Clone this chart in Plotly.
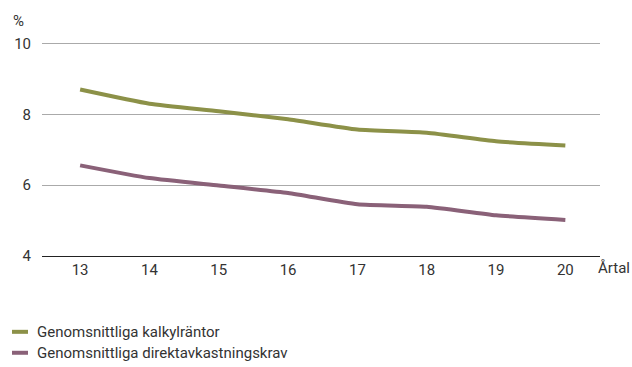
import plotly.graph_objects as go

years = ["13", "14", "15", "16", "17", "18", "19", "20"]
kalkyl = [8.70, 8.30, 8.09, 7.86, 7.57, 7.48, 7.24, 7.12]
direkt = [6.56, 6.20, 5.99, 5.78, 5.46, 5.39, 5.15, 5.02]
names = ["Genomsnittliga kalkylräntor", "Genomsnittliga direktavkastningskrav"]
colors = ["#8c9148", "#8a6178"]

FONT = "Roboto, Inter, sans-serif"
FS = 15
TXT = "#333333"
W, H = 632, 367
L, R, T, B = 42, 32, 39.5, 111
pw, ph = W - L - R, H - T - B

fig = go.Figure()
for vals, name, col in zip([kalkyl, direkt], names, colors):
    fig.add_trace(go.Scatter(x=years, y=vals, mode="lines", name=name,
                             line=dict(color=col, width=4, shape="spline", smoothing=0.5),
                             showlegend=False))

def px_x(p):
    return (p - L) / pw

def px_y(p):
    return (H - B - p) / ph

annotations = [
    dict(text="%", x=px_x(11), y=px_y(20), xref="paper", yref="paper",
         xanchor="left", yanchor="middle", showarrow=False,
         font=dict(family=FONT, size=FS, color=TXT)),
    dict(text="Årtal", x=px_x(596), y=px_y(268), xref="paper", yref="paper",
         xanchor="left", yanchor="middle", showarrow=False,
         font=dict(family=FONT, size=FS, color=TXT)),
]
shapes = []
for i, (name, col) in enumerate(zip(names, colors)):
    yy = 332 + i * 21
    annotations.append(dict(text=name, x=px_x(35), y=px_y(yy), xref="paper", yref="paper",
                            xanchor="left", yanchor="middle", showarrow=False,
                            font=dict(family=FONT, size=FS, color=TXT)))
    shapes.append(dict(type="line", xref="paper", yref="paper",
                       x0=px_x(12), x1=px_x(28), y0=px_y(yy), y1=px_y(yy),
                       line=dict(color=col, width=4)))

fig.update_layout(
    width=W, height=H,
    margin=dict(l=L, r=R, t=T, b=B),
    paper_bgcolor="white", plot_bgcolor="white",
    font=dict(family=FONT, size=FS, color=TXT),
    annotations=annotations, shapes=shapes,
    xaxis=dict(type="category", range=[-0.55, 7.5], showgrid=False,
               showline=True, linecolor="#222", linewidth=1.2, ticks="",
               tickfont=dict(size=FS, color=TXT), fixedrange=True),
    yaxis=dict(range=[4, 10.1], tickvals=[4, 6, 8, 10], showgrid=True,
               gridcolor="#aaaaaa", gridwidth=1,
               zeroline=False, showline=False, ticks="", ticklabelstandoff=10,
               tickfont=dict(size=FS, color=TXT), fixedrange=True),
)

fig.write_html("out.html")
